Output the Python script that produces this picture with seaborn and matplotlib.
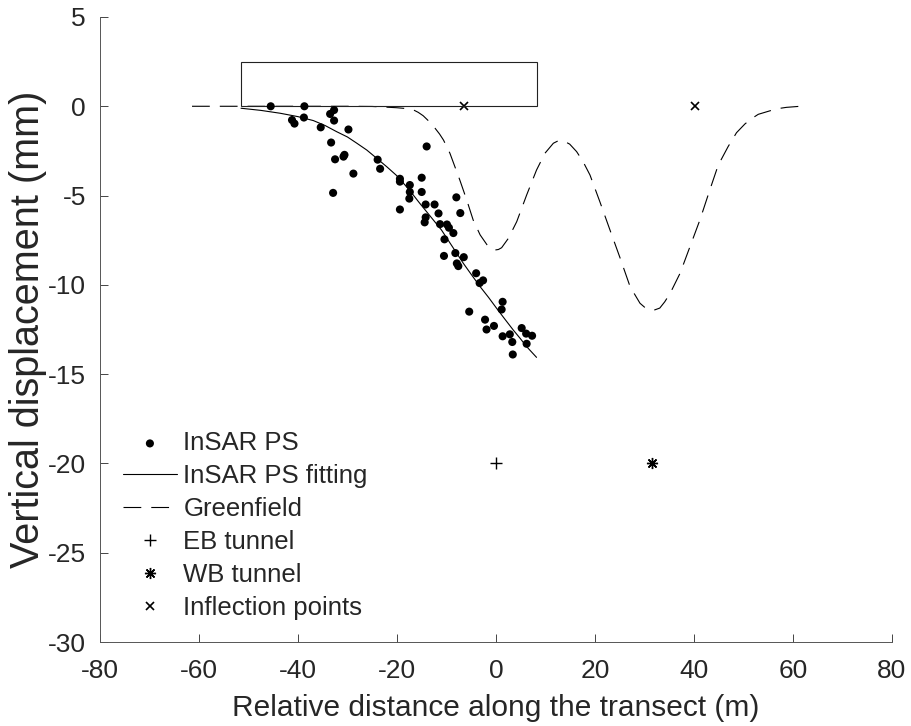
import matplotlib
matplotlib.use("Agg")
import matplotlib.pyplot as plt
from matplotlib.patches import Rectangle
import pandas as pd
import seaborn as sns

# InSAR PS 점 (값은 그림에서 읽음)
ps_x = [-45.5, -38.7, -41.2, -40.7, -38.8, -33.5, -32.7, -32.7, -35.4, -29.8,
        -33.3, -32.5, -30.8, -30.6, -28.8, -32.9, -23.9, -23.4, -19.4, -19.4,
        -19.4, -17.4, -17.4, -17.5, -15.0, -14.0, -15.0, -14.2, -12.4, -14.2,
        -14.4, -11.6, -11.3, -9.9, -9.5, -10.4, -8.6, -8.0, -7.2, -10.5,
        -8.2, -7.9, -7.6, -6.5, -4.0, -3.3, -2.6, -5.4, -2.2, -1.9,
        -0.4, 1.35, 1.15, 1.35, 2.8, 3.3, 3.4, 5.2, 6.1, 6.2, 7.3]
ps_y = [0.0, 0.0, -0.77, -0.97, -0.63, -0.43, -0.21, -0.80, -1.18, -1.30,
        -2.03, -2.97, -2.82, -2.72, -3.77, -4.85, -2.99, -3.50, -4.06, -4.22,
        -5.78, -4.41, -4.80, -5.17, -4.00, -2.25, -4.80, -5.50, -5.50, -6.22,
        -6.50, -6.00, -6.60, -6.62, -6.80, -7.45, -7.10, -5.10, -5.98, -8.38,
        -8.22, -8.80, -8.95, -8.45, -9.35, -9.90, -9.75, -11.50, -11.95, -12.50,
        -12.30, -10.95, -11.38, -12.88, -12.77, -13.20, -13.90, -12.42, -12.73, -13.30, -12.85]

# 피팅 곡선
fit_x = [-51.5, -47.5, -43.6, -40.0, -36.9, -34.5, -32.2, -30.0, -28.1, -26.1,
         -24.1, -22.0, -20.1, -18.4, -16.7, -15.4, -13.2, -11.0, -8.8, -6.6,
         -4.9, -3.2, -1.5, 0.1, 1.8, 3.5, 4.9, 6.2, 7.2, 8.2]
fit_y = [-0.11, -0.23, -0.39, -0.58, -0.80, -1.08, -1.42, -1.72, -2.07, -2.45,
         -2.91, -3.40, -3.87, -4.40, -4.97, -5.43, -6.18, -6.93, -7.86, -8.79,
         -9.45, -10.10, -10.70, -11.30, -11.92, -12.53, -13.00, -13.46, -13.76, -14.06]

# Greenfield 곡선
gf_x = [-61.4, -50.0, -40.0, -30.0, -25.0, -20.1, -18.4, -16.7, -15.7, -14.7,
        -13.5, -12.3, -11.4, -10.6, -9.3, -8.3, -7.3, -5.9, -4.6, -3.2,
        -1.55, -0.9, -0.2, 0.5, 1.15, 2.5, 4.2, 6.2, 8.2, 9.9,
        11.6, 12.6, 13.6, 14.9, 16.3, 17.6, 19.0, 21.0, 23.0, 25.1,
        27.1, 29.1, 30.1, 31.1, 32.1, 33.1, 34.1, 35.2, 37.2, 39.2,
        41.2, 43.2, 44.9, 46.9, 48.6, 50.3, 51.6, 53.0, 55.4, 57.0,
        58.7, 61.5]
gf_y = [0.0, 0.0, 0.0, 0.0, -0.01, -0.08, -0.12, -0.20, -0.34, -0.53,
        -0.85, -1.23, -1.55, -1.89, -2.63, -3.38, -4.13, -5.25, -6.37, -7.20,
        -7.86, -7.98, -8.05, -8.02, -7.92, -7.40, -6.46, -4.97, -3.57, -2.63,
        -2.07, -1.93, -1.93, -2.12, -2.54, -3.10, -3.85, -5.35, -6.90, -8.51,
        -10.10, -11.03, -11.27, -11.40, -11.40, -11.30, -10.95, -10.47, -9.35, -7.86,
        -6.37, -4.69, -3.30, -2.26, -1.48, -0.99, -0.70, -0.45, -0.25, -0.13,
        -0.06, 0.0]

eb_x, eb_y = [0.0], [-20.0]
wb_x, wb_y = [31.6], [-20.0]
infl_x, infl_y = [-6.4, 40.2], [0.0, 0.0]

# 건물 (사각형)
bldg_x0, bldg_x1 = -51.5, 8.3
bldg_height = 2.5

x_ticks = [-80, -60, -40, -20, 0, 20, 40, 60, 80]
y_ticks = [-30, -25, -20, -15, -10, -5, 0, 5]

sns.set_style("ticks")
plt.rcParams["font.family"] = ["Liberation Sans", "DejaVu Sans"]
txt = "#262626"

fig = plt.figure(figsize=(9.12, 7.26), dpi=100)
ax = fig.add_axes([0.1096, 0.1157, 0.8684, 0.8609])

ps = pd.DataFrame({"x": ps_x, "y": ps_y})
fit = pd.DataFrame({"x": fit_x, "y": fit_y})
gf = pd.DataFrame({"x": gf_x, "y": gf_y})

sns.scatterplot(data=ps, x="x", y="y", ax=ax, color="k", s=34,
                edgecolor="none", label="InSAR PS", zorder=3)
sns.lineplot(data=fit, x="x", y="y", ax=ax, color="k", lw=0.8,
             estimator=None, sort=False, label="InSAR PS fitting")
sns.lineplot(data=gf, x="x", y="y", ax=ax, color="k", lw=0.8,
             estimator=None, sort=False, linestyle=(0, (16, 9)),
             label="Greenfield")
ax.plot(eb_x, eb_y, ls="none", marker="+", ms=8, mew=1.0, color="k",
        label="EB tunnel")
ax.plot(wb_x, wb_y, ls="none", marker=(8, 2, 0), ms=8, mew=1.0, color="k",
        label="WB tunnel")
ax.plot(infl_x, infl_y, ls="none", marker="x", ms=6, mew=1.2, color="k",
        label="Inflection points")

ax.add_patch(Rectangle((bldg_x0, 0), bldg_x1 - bldg_x0, bldg_height,
                       fill=False, ec="#222222", lw=0.8, zorder=2))

ax.set_xlim(-80, 80)
ax.set_ylim(-30, 5)
ax.set_xticks(x_ticks)
ax.set_yticks(y_ticks)
ax.set_xticklabels([str(t) for t in x_ticks])
ax.set_yticklabels([str(t) for t in y_ticks])
ax.tick_params(axis="both", direction="in", length=5.7, width=0.6,
               colors=txt, labelsize=19)
ax.tick_params(axis="x", pad=12)
ax.tick_params(axis="y", pad=10)
sns.despine(ax=ax)
for s in ["left", "bottom"]:
    ax.spines[s].set_color("#555555")
    ax.spines[s].set_linewidth(0.7)

ax.set_xlabel("Relative distance along the transect (m)", fontsize=21.5,
              color=txt, labelpad=8)
ax.set_ylabel("Vertical displacement (mm)", fontsize=28.5, color=txt,
              labelpad=1)

leg = ax.legend(loc="lower left", bbox_to_anchor=(0.029, 0.035), frameon=False,
                fontsize=18.5, handlelength=2.1, handletextpad=0.25,
                labelspacing=0.35, borderpad=0, borderaxespad=0)
for t in leg.get_texts():
    t.set_color(txt)

fig.savefig("out.png", dpi=100)
